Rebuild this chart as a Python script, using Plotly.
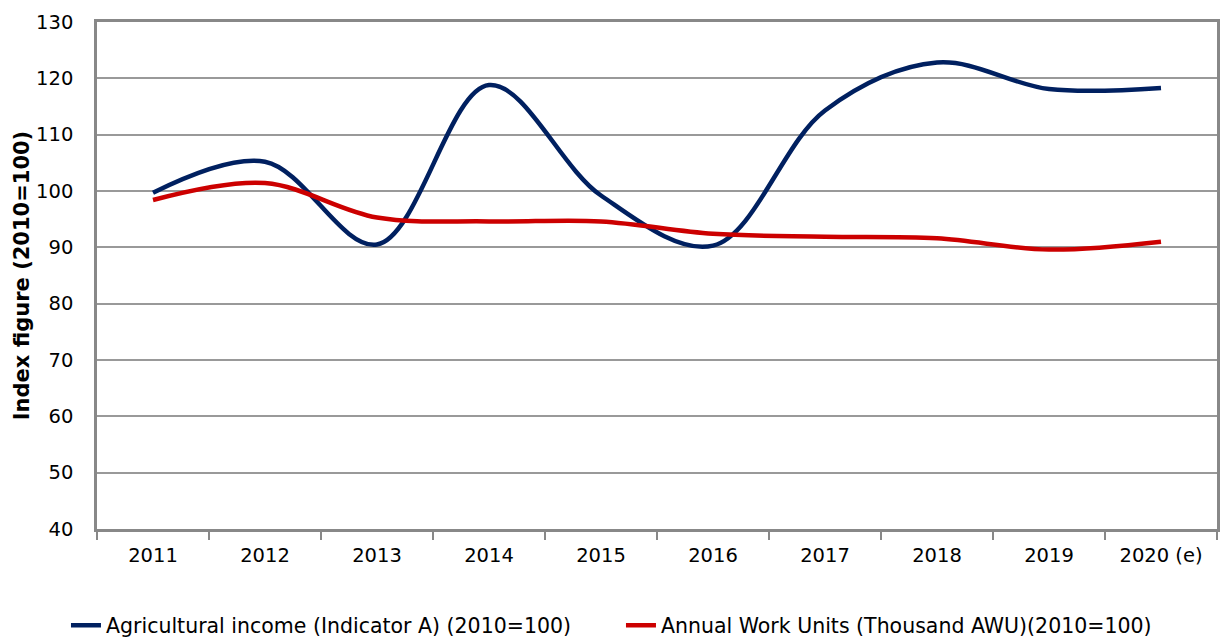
import plotly.graph_objects as go

years = ["2011", "2012", "2013", "2014", "2015", "2016", "2017", "2018", "2019", "2020 (e)"]
agri_income = [99.7, 105.2, 90.5, 118.8, 99.2, 90.3, 114.3, 122.8, 118.1, 118.3]
awu = [98.4, 101.4, 95.3, 94.6, 94.6, 92.4, 91.9, 91.6, 89.6, 91.0]

font_family = "DejaVu Sans, Verdana, sans-serif"

fig = go.Figure()
fig.add_trace(go.Scatter(
    x=years, y=agri_income, mode="lines",
    name="Agricultural income (Indicator A) (2010=100)",
    line=dict(color="#002060", width=4.5, shape="spline", smoothing=1.0),
))
fig.add_trace(go.Scatter(
    x=years, y=awu, mode="lines",
    name="Annual Work Units (Thousand AWU)(2010=100)",
    line=dict(color="#CC0000", width=4.5, shape="spline", smoothing=1.0),
))

fig.update_layout(
    width=1223, height=640,
    margin=dict(l=97, r=6, t=22, b=111, autoexpand=False),
    paper_bgcolor="white", plot_bgcolor="white",
    font=dict(family=font_family, size=19, color="black"),
    showlegend=True,
    legend=dict(orientation="h", x=-0.0277, xanchor="left", y=-0.19, yanchor="middle",
                font=dict(size=20.5), entrywidth=510, tracegroupgap=0),
    xaxis=dict(
        type="category", range=[-0.5, 9.5], tickson="boundaries",
        ticks="outside", ticklen=8, tickwidth=2, tickcolor="#888888",
        showline=True, linecolor="#888888", linewidth=2.5, mirror=True,
        showgrid=False, tickfont=dict(size=19.5), ticklabelstandoff=7,
        automargin=False,
    ),
    yaxis=dict(
        range=[40, 130], dtick=10, tick0=40,
        showline=True, linecolor="#888888", linewidth=2.5, mirror=True,
        showgrid=True, gridcolor="#999999", gridwidth=1.5,
        ticks="", ticklabelstandoff=17, tickfont=dict(size=19.5),
        zeroline=False, automargin=False,
        title=dict(text="<b>Index figure (2010=100)</b>", font=dict(size=21), standoff=1),
    ),
)

fig.write_html("out.html", config={"displayModeBar": False},
               post_script="document.body.style.margin='0';document.body.style.overflow='hidden';")
